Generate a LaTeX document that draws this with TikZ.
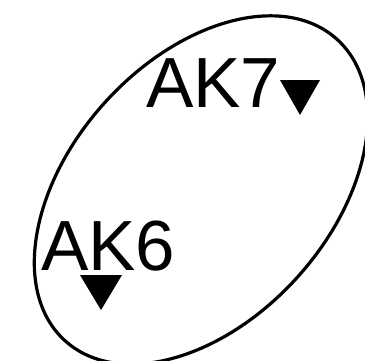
\documentclass[tikz,border=0pt]{standalone}
\usepackage{fontspec}
\setmainfont{Liberation Sans}
\usetikzlibrary{positioning}

\begin{document}
\begin{tikzpicture}[x=1pt,y=1pt,
  lbl/.style={anchor=base west,inner sep=0pt,font=\fontsize{71}{71}\selectfont},
  tri/.style={fill=black},
  rim/.style={line width=3.2pt}]
\useasboundingbox (0,0) rectangle (365,360);
\draw[rim,rotate around={48:(201,170)}] (201,170) ellipse [x radius=203,y radius=130];
\node[lbl] (ak7) at (146,253) {AK7};
\node[lbl] (ak6) at (41,90) {AK6};
% down-pointing triangles
\fill[tri] (280,280)--(320,280)--(300,245)--cycle;
\fill[tri] (80,85)--(122,85)--(101,50)--cycle;
\end{tikzpicture}
\end{document}
